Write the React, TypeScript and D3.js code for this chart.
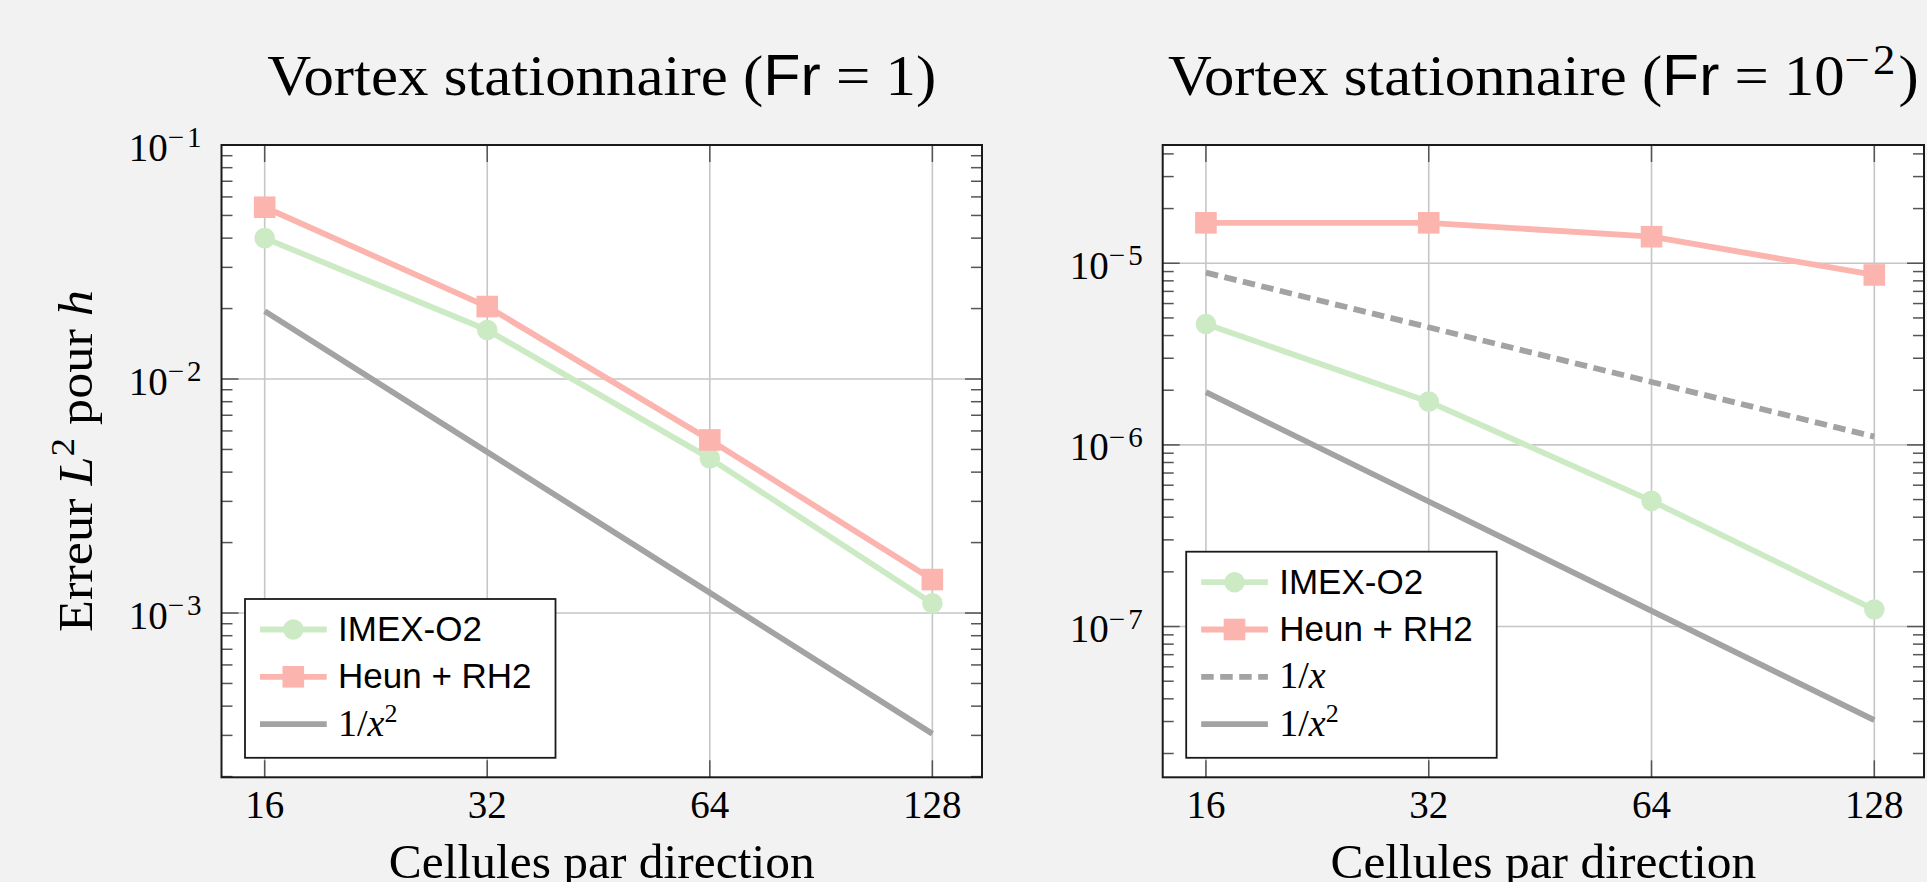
import React, { useEffect, useRef } from "react";
import * as d3 from "d3";

// cells per direction (x axis)
const cells = [16, 32, 64, 128];

// Fr = 1
const imexFr1 = [4.0e-2, 1.62e-2, 4.58e-3, 1.1e-3];
const heunFr1 = [5.42e-2, 2.04e-2, 5.49e-3, 1.39e-3];
const orderTwoFr1 = [1.95e-2, 4.88e-3, 1.22e-3, 3.05e-4];
const yTicksFr1 = [1e-3, 1e-2, 1e-1];

// Fr = 1e-2
const imexFr2 = [4.63e-6, 1.73e-6, 4.92e-7, 1.24e-7];
const heunFr2 = [1.67e-5, 1.67e-5, 1.4e-5, 8.62e-6];
const orderOneFr2 = [8.88e-6, 4.44e-6, 2.22e-6, 1.11e-6];
const orderTwoFr2 = [1.95e-6, 4.88e-7, 1.22e-7, 3.05e-8];
const yTicksFr2 = [1e-7, 1e-6, 1e-5];

const W = 1927;
const H = 882;
const SERIF = "'Liberation Serif', 'DejaVu Serif', serif";
const SANS = "'Liberation Sans', Arimo, sans-serif";

const GREEN = "#ccebc5";
const PINK = "#fbb4ae";
const GRAY = "#a3a3a3";

const TOP = 145;
const BOTTOM = 777.3;
const X_DOMAIN = [2 ** 3.806, 2 ** 7.223];

type Part = { t: string; sans?: boolean; it?: boolean; sup?: number; rise?: number; ls?: number };

const imexLabel: Part[] = [{ t: "IMEX-O2", sans: true }];
const heunLabel: Part[] = [{ t: "Heun + RH2", sans: true }];
const invXLabel: Part[] = [{ t: "1/" }, { t: "x", it: true }];
const invX2Label: Part[] = [{ t: "1/" }, { t: "x", it: true }, { t: "2", sup: 26, rise: 14 }];

const panels = [
  {
    left: 221.5,
    right: 982,
    yDomain: [10 ** -3.702, 10 ** -1],
    yTicks: yTicksFr1,
    title: [{ t: "Vortex stationnaire (" }, { t: "Fr", sans: true }, { t: " = 1)" }] as Part[],
    titleWidth: 669,
    yLabel: true,
    series: [
      { values: imexFr1, color: GREEN, marker: "circle", dash: false, label: imexLabel },
      { values: heunFr1, color: PINK, marker: "square", dash: false, label: heunLabel },
      { values: orderTwoFr1, color: GRAY, marker: null, dash: false, label: invX2Label },
    ],
  },
  {
    left: 1162.7,
    right: 1924,
    yDomain: [10 ** -7.83, 10 ** -4.349],
    yTicks: yTicksFr2,
    title: [
      { t: "Vortex stationnaire (" },
      { t: "Fr", sans: true },
      { t: " = 10" },
      { t: "\u22122", sup: 42, rise: 21, ls: 3 },
      { t: ")" },
    ] as Part[],
    titleWidth: 751,
    yLabel: false,
    series: [
      { values: imexFr2, color: GREEN, marker: "circle", dash: false, label: imexLabel },
      { values: heunFr2, color: PINK, marker: "square", dash: false, label: heunLabel },
      { values: orderOneFr2, color: GRAY, marker: null, dash: true, label: invXLabel },
      { values: orderTwoFr2, color: GRAY, marker: null, dash: false, label: invX2Label },
    ],
  },
];

function addParts(text: any, parts: Part[]) {
  let shift = 0;
  parts.forEach((pt) => {
    const ts = text.append("tspan").text(pt.t);
    if (pt.sans) ts.attr("font-family", SANS);
    if (pt.it) ts.attr("font-style", "italic");
    if (pt.ls) ts.attr("letter-spacing", pt.ls);
    if (pt.sup) {
      ts.attr("font-size", pt.sup).attr("dy", -(pt.rise || 0) - shift);
      shift = -(pt.rise || 0);
    } else if (shift !== 0) {
      ts.attr("dy", -shift);
      shift = 0;
    }
  });
}

// stretch a text horizontally so it spans the width measured on the reference
function fitWidth(text: any, cx: number, target: number) {
  const w = text.node().getBBox().width;
  if (!w) return;
  const s = target / w;
  text.attr("transform", `translate(${cx},0) scale(${s},1) translate(${-cx},0)`);
}

function drawMarker(g: any, kind: string | null, cx: number, cy: number, color: string) {
  if (kind === "circle") {
    g.append("circle").attr("cx", cx).attr("cy", cy).attr("r", 10.3).attr("fill", color);
  } else if (kind === "square") {
    g.append("rect")
      .attr("x", cx - 10.8)
      .attr("y", cy - 10.8)
      .attr("width", 21.6)
      .attr("height", 21.6)
      .attr("fill", color);
  }
}

export default function App() {
  const ref = useRef<SVGSVGElement>(null);

  useEffect(() => {
    const svg = d3.select(ref.current);
    svg.selectAll("*").remove();

    svg.append("rect").attr("width", W).attr("height", H).attr("fill", "#f2f2f2");

    panels.forEach((p) => {
      const x = d3.scaleLog().base(2).domain(X_DOMAIN).range([p.left, p.right]);
      const y = d3.scaleLog().domain(p.yDomain).range([BOTTOM, TOP]);
      const g = svg.append("g");
      const cx = (p.left + p.right) / 2;

      g.append("rect")
        .attr("x", p.left)
        .attr("y", TOP)
        .attr("width", p.right - p.left)
        .attr("height", BOTTOM - TOP)
        .attr("fill", "#fff");

      // grid
      g.selectAll("line.gx")
        .data(cells)
        .join("line")
        .attr("class", "gx")
        .attr("x1", (d) => x(d))
        .attr("x2", (d) => x(d))
        .attr("y1", TOP)
        .attr("y2", BOTTOM)
        .attr("stroke", "#c6c6c6")
        .attr("stroke-width", 1.6);
      g.selectAll("line.gy")
        .data(p.yTicks)
        .join("line")
        .attr("class", "gy")
        .attr("x1", p.left)
        .attr("x2", p.right)
        .attr("y1", (d) => y(d))
        .attr("y2", (d) => y(d))
        .attr("stroke", "#c6c6c6")
        .attr("stroke-width", 1.6);

      // ticks
      const minor = y.ticks().filter((v) => Math.abs(Math.log10(v) - Math.round(Math.log10(v))) > 1e-6);
      const tickCol = "#555";
      [
        [p.left, 1],
        [p.right, -1],
      ].forEach(([x0, dir]) => {
        g.append("g")
          .selectAll("line")
          .data(minor)
          .join("line")
          .attr("x1", x0)
          .attr("x2", x0 + dir * 11)
          .attr("y1", (d) => y(d))
          .attr("y2", (d) => y(d))
          .attr("stroke", tickCol)
          .attr("stroke-width", 1.5);
        g.append("g")
          .selectAll("line")
          .data(p.yTicks)
          .join("line")
          .attr("x1", x0)
          .attr("x2", x0 + dir * 17)
          .attr("y1", (d) => y(d))
          .attr("y2", (d) => y(d))
          .attr("stroke", tickCol)
          .attr("stroke-width", 1.5);
      });
      [
        [BOTTOM, -1],
        [TOP, 1],
      ].forEach(([y0, dir]) => {
        g.append("g")
          .selectAll("line")
          .data(cells)
          .join("line")
          .attr("x1", (d) => x(d))
          .attr("x2", (d) => x(d))
          .attr("y1", y0)
          .attr("y2", y0 + dir * 17)
          .attr("stroke", tickCol)
          .attr("stroke-width", 1.5);
      });

      // series
      const line = d3
        .line<number>()
        .x((d, i) => x(cells[i]))
        .y((d) => y(d));
      p.series.forEach((s) => {
        g.append("path")
          .attr("d", line(s.values))
          .attr("fill", "none")
          .attr("stroke", s.color)
          .attr("stroke-width", 5.8)
          .attr("stroke-linejoin", "round")
          .attr("stroke-dasharray", s.dash ? "12.5,6.5" : null);
        if (s.marker) s.values.forEach((v, i) => drawMarker(g, s.marker, x(cells[i]), y(v), s.color));
      });

      // frame
      g.append("rect")
        .attr("x", p.left)
        .attr("y", TOP)
        .attr("width", p.right - p.left)
        .attr("height", BOTTOM - TOP)
        .attr("fill", "none")
        .attr("stroke", "#1a1a1a")
        .attr("stroke-width", 2);

      // tick labels
      g.append("g")
        .selectAll("text")
        .data(cells)
        .join("text")
        .attr("x", (d) => x(d))
        .attr("y", 818.3)
        .attr("text-anchor", "middle")
        .attr("font-family", SERIF)
        .attr("font-size", 39)
        .text((d) => d);
      p.yTicks.forEach((v) => {
        const t = g
          .append("text")
          .attr("x", p.left - 17)
          .attr("y", y(v) + 15.5)
          .attr("text-anchor", "end")
          .attr("font-family", SERIF)
          .attr("font-size", 39);
        addParts(t, [
          { t: "10" },
          { t: "\u2212" + Math.abs(Math.round(Math.log10(v))), sup: 29, rise: 13.5, ls: 3 },
        ]);
      });

      // title
      const title = g
        .append("text")
        .attr("x", cx)
        .attr("y", 95)
        .attr("text-anchor", "middle")
        .attr("font-family", SERIF)
        .attr("font-size", 57);
      addParts(title, p.title);
      fitWidth(title, cx, p.titleWidth);

      // x label
      const xl = g
        .append("text")
        .attr("x", cx)
        .attr("y", 878.5)
        .attr("text-anchor", "middle")
        .attr("font-family", SERIF)
        .attr("font-size", 48)
        .text("Cellules par direction");
      fitWidth(xl, cx, 426);

      if (p.yLabel) {
        const yl = g
          .append("g")
          .attr("transform", `translate(91.7,461) rotate(-90)`)
          .append("text")
          .attr("x", 0)
          .attr("y", 0)
          .attr("text-anchor", "middle")
          .attr("font-family", SERIF)
          .attr("font-size", 48);
        addParts(yl, [{ t: "Erreur " }, { t: "L", it: true }, { t: "2", sup: 34, rise: 18 }, { t: " pour " }, { t: "h", it: true }]);
        fitWidth(yl, 0, 342);
      }

      // legend
      const n = p.series.length;
      const lh = 64.2 + (n - 1) * 47.3;
      const lx = p.left + 23.5;
      const ly = BOTTOM - 19.5 - lh;
      const lg = g.append("g");
      lg.append("rect")
        .attr("x", lx)
        .attr("y", ly)
        .attr("width", 310.5)
        .attr("height", lh)
        .attr("fill", "#fff")
        .attr("stroke", "#1a1a1a")
        .attr("stroke-width", 1.8);
      p.series.forEach((s, i) => {
        const ry = ly + 30.5 + i * 47.3;
        lg.append("line")
          .attr("x1", lx + 15)
          .attr("x2", lx + 81.7)
          .attr("y1", ry)
          .attr("y2", ry)
          .attr("stroke", s.color)
          .attr("stroke-width", 5.8)
          .attr("stroke-dasharray", s.dash ? "12.5,6.5" : null);
        drawMarker(lg, s.marker, lx + 48.3, ry, s.color);
        const t = lg
          .append("text")
          .attr("x", lx + 93)
          .attr("y", ry + 11.5)
          .attr("font-family", SERIF)
          .attr("font-size", s.label[0].sans ? 35 : 38);
        addParts(t, s.label);
      });
    });
  }, []);

  return <svg ref={ref} width={W} height={H} style={{ position: "absolute", left: 0, top: 0 }} />;
}
